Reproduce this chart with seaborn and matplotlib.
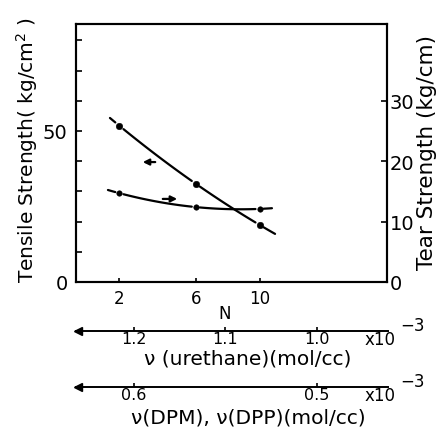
import numpy as np
import matplotlib
matplotlib.use("Agg")
import matplotlib.pyplot as plt
import seaborn as sns

# --- data ---
n_values = [2, 6, 10]
nu_urethane = [1.216, 1.132, 1.062]          # x10^-3 mol/cc
tensile = [51.7, 32.5, 18.9]                 # kg/cm^2
tear = [14.7, 12.4, 12.1]                    # kg/cm
urethane_ticks = [1.2, 1.1, 1.0]
dpm_ticks = [0.6, 0.5]

sns.set_theme(style="ticks")
plt.rcParams["font.family"] = ["DejaVu Sans"]
for key in ("text.color", "axes.labelcolor", "xtick.color", "ytick.color", "axes.edgecolor"):
    plt.rcParams[key] = "black"

W, H = 441, 435
fig = plt.figure(figsize=(W / 100, H / 100), dpi=100)

def frac(px_left, px_top, px_right, px_bottom):
    return [px_left / W, 1 - px_bottom / H, (px_right - px_left) / W, (px_bottom - px_top) / H]

XLIM = (1.2637, 0.922)
ax = fig.add_axes(frac(76, 25, 387, 283))
ax2 = ax.twinx()
ax.set_xlim(*XLIM)
ax.set_ylim(0, 85.4)
ax2.set_ylim(0, 42.7)

for a in (ax, ax2):
    for s in a.spines.values():
        s.set_linewidth(1.5)
        s.set_color("black")
        s.set_visible(True)

# fitted trend curves, drawn in pieces with small gaps round each point
def draw_curve(a, x, y, start, end, gap=0.0045):
    coef = np.polyfit(x, y, 2)
    bounds = [start] + [v for xi in x for v in (xi + gap, xi - gap)] + [end]
    for lo, hi in zip(bounds[0::2], bounds[1::2]):
        xs = np.linspace(lo, hi, 40)
        sns.lineplot(x=xs, y=np.polyval(coef, xs), ax=a, color="black",
                     lw=1.6, sort=False, estimator=None)

draw_curve(ax, nu_urethane, tensile, 1.2264, 1.045)
draw_curve(ax2, nu_urethane, tear, 1.2286, 1.0484)
sns.scatterplot(x=nu_urethane, y=tensile, ax=ax, color="black", s=22, edgecolor="black", zorder=5)
sns.scatterplot(x=nu_urethane, y=tear, ax=ax2, color="black", s=16, edgecolor="black", zorder=5)

# arrows telling which axis each curve belongs to
ax.annotate("", xy=(1.1934, 39.7), xytext=(1.1736, 39.7),
            arrowprops=dict(arrowstyle="-|>", color="black", lw=1.6, mutation_scale=9))
ax.annotate("", xy=(1.1495, 27.5), xytext=(1.1714, 27.5),
            arrowprops=dict(arrowstyle="-|>", color="black", lw=1.6, mutation_scale=9))

# main axis ticks
ax.set_xticks(nu_urethane)
ax.set_xticklabels([str(n) for n in n_values])
ax.set_yticks(np.arange(0, 81, 10))
ax.set_yticklabels(["0", "", "", "", "", "50", "", "", ""])
ax.tick_params(axis="x", direction="in", length=3, width=1.2, pad=5, labelsize=12)
ax.tick_params(axis="y", direction="in", length=4, width=1.2, pad=6, labelsize=14)
ax2.set_yticks([0, 10, 20, 30])
ax2.tick_params(axis="y", direction="in", length=4, width=1.2, pad=2, labelsize=14)
ax.set_xlabel("")
ax.set_ylabel("")
ax2.set_ylabel("")
fig.text(27 / W, 1 - 150 / H, "Tensile Strength( kg/cm$^2$ )", rotation=90,
         ha="center", va="center", fontsize=14.5)
fig.text(427 / W, 1 - 152 / H, "Tear Strength (kg/cm)", rotation=90,
         ha="center", va="center", fontsize=15.5)
fig.text(225 / W, 1 - 314 / H, "N", ha="center", va="center", fontsize=12)

# secondary crosslink-density scales below the plot
def scale_axis(y_px, lim, ticks, label, label_y_px):
    s = fig.add_axes(frac(76, y_px - 0.5, 388, y_px))
    s.set_facecolor("none")
    for side in ("left", "right", "top"):
        s.spines[side].set_visible(False)
    s.spines["bottom"].set_linewidth(1.4)
    s.set_xlim(*lim)
    s.set_yticks([])
    s.set_xticks(ticks)
    s.set_xticklabels([f"{t:.1f}" for t in ticks])
    s.tick_params(axis="x", direction="in", length=3, width=1.2, pad=0, labelsize=11.5)
    s.plot([0.006], [0], marker="<", color="black", ms=6, transform=s.transAxes, clip_on=False)
    fig.text(380 / W, 1 - (y_px + 8) / H, "x10", ha="center", va="center", fontsize=12)
    fig.text(412 / W, 1 - (y_px - 6) / H, "\u22123", ha="center", va="center", fontsize=12)
    fig.text(248 / W, 1 - label_y_px / H, label, ha="center", va="center", fontsize=14.5)
    return s

scale_axis(332, XLIM, urethane_ticks, "\u03bd (urethane)(mol/cc)", 359)
scale_axis(388, (XLIM[0] / 2, XLIM[1] / 2), dpm_ticks, "\u03bd(DPM), \u03bd(DPP)(mol/cc)", 418)

fig.savefig("out.png", dpi=100)
